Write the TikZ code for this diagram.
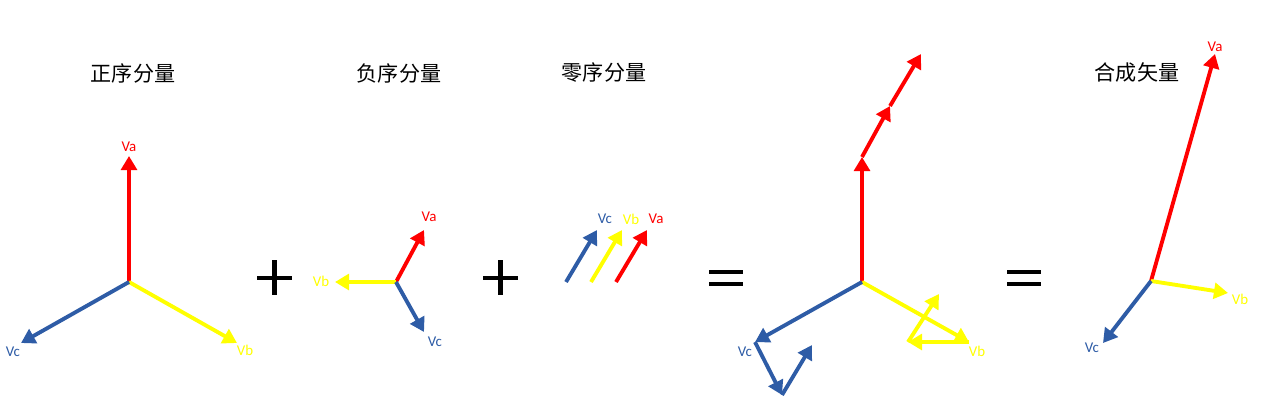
\documentclass[tikz,border=0pt]{standalone}
\usepackage{fontspec}
\setmainfont{Carlito}
\newfontfamily\cjk{Noto Sans CJK SC}
\usetikzlibrary{arrows.meta}
\definecolor{phA}{RGB}{255,0,0}
\definecolor{phB}{RGB}{255,255,0}
\definecolor{phC}{RGB}{46,92,166}
\tikzset{
  vec/.style={line width=2.2pt, -{Triangle[length=8pt,width=9pt]}},
  vecA/.style={vec, draw=phA},
  vecB/.style={vec, draw=phB},
  vecC/.style={vec, draw=phC},
  lbl/.style={font=\fontsize{8.5}{9}\selectfont, inner sep=0pt},
  title/.style={font=\cjk\fontsize{12}{14}\selectfont, inner sep=0pt},
  op/.style={line width=2.4pt, draw=black}
}
\begin{document}
\begin{tikzpicture}[x=0.02cm, y=-0.02cm]
        \useasboundingbox (0,0) rectangle (1277,409);

        %titles
        \node[title] (tpos) at (133,73) {正序分量};
        \node[title] (tneg) at (399,73) {负序分量};
        \node[title] (tzero) at (604,73) {零序分量};
        \node[title] (tsum) at (1137,73) {合成矢量};

        %positive sequence
        \coordinate (p0) at (129,282);
        \coordinate (pa) at (129,156);
        \coordinate (pb) at (237,343);
        \coordinate (pc) at (21,343);
        \draw[vecA] (p0) -- (pa);
        \draw[vecB] (p0) -- (pb);
        \draw[vecC] (p0) -- (pc);
        \node[lbl, text=phA] (pva) at (129,147) {Va};
        \node[lbl, text=phB] (pvb) at (245,350) {Vb};
        \node[lbl, text=phC] (pvc) at (13,352) {Vc};

        %plus 1
        \draw[op] (257,278) -- (292,278);
        \draw[op] (274.5,260) -- (274.5,295);

        %negative sequence
        \coordinate (n0) at (396,282);
        \coordinate (na) at (424,230);
        \coordinate (nb) at (335,282);
        \coordinate (nc) at (424,332);
        \draw[vecA] (n0) -- (na);
        \draw[vecB] (n0) -- (nb);
        \draw[vecC] (n0) -- (nc);
        \node[lbl, text=phA] (nva) at (429,217) {Va};
        \node[lbl, text=phB] (nvb) at (321,281) {Vb};
        \node[lbl, text=phC] (nvc) at (435,342) {Vc};

        %plus 2
        \draw[op] (483,278) -- (518,278);
        \draw[op] (500.5,260) -- (500.5,295);

        %zero sequence
        \coordinate (zc0) at (566,282);
        \coordinate (zc1) at (597,230);
        \coordinate (zb0) at (591,282);
        \coordinate (zb1) at (622,230);
        \coordinate (za0) at (616,282);
        \coordinate (za1) at (647,230);
        \draw[vecC] (zc0) -- (zc1);
        \draw[vecB] (zb0) -- (zb1);
        \draw[vecA] (za0) -- (za1);
        \node[lbl, text=phC] (zvc) at (605,219) {Vc};
        \node[lbl, text=phB] (zvb) at (631,219) {Vb};
        \node[lbl, text=phA] (zva) at (656,219) {Va};

        %equals 1
        \draw[op] (709,272) -- (743,272);
        \draw[op] (709,284) -- (743,284);

        %addition
        \coordinate (s0) at (862,282);
        \coordinate (sa1) at (862,157);
        \coordinate (sa2) at (890,106);
        \coordinate (sa3) at (921,54);
        \coordinate (sb1) at (969,342);
        \coordinate (sb2) at (908,342);
        \coordinate (sb3) at (939,294);
        \coordinate (sc1) at (755,342);
        \coordinate (sc2) at (782,395);
        \coordinate (sc3) at (812,345);
        \draw[vecA] (s0) -- (sa1);
        \draw[vecA] (sa1) -- (sa2);
        \draw[vecA] (sa2) -- (sa3);
        \draw[vecB] (s0) -- (sb1);
        \draw[vecB] (sb1) -- (sb2);
        \draw[vecB] (sb2) -- (sb3);
        \draw[vecC] (s0) -- (sc1);
        \draw[vecC] (sc1) -- (sc2);
        \draw[vecC] (sc2) -- (sc3);
        \node[lbl, text=phC] (svc) at (745,352) {Vc};
        \node[lbl, text=phB] (svb) at (977,351) {Vb};

        %equals 2
        \draw[op] (1007,272) -- (1041,272);
        \draw[op] (1007,284) -- (1041,284);

        %resultant
        \coordinate (r0) at (1151,281);
        \coordinate (ra) at (1215,54);
        \coordinate (rb) at (1228,293);
        \coordinate (rc) at (1103,343);
        \draw[vecA] (r0) -- (ra);
        \draw[vecB] (r0) -- (rb);
        \draw[vecC] (r0) -- (rc);
        \node[lbl, text=phA] (rva) at (1215,47) {Va};
        \node[lbl, text=phB] (rvb) at (1240,299) {Vb};
        \node[lbl, text=phC] (rvc) at (1092,348) {Vc};
\end{tikzpicture}
\end{document}
